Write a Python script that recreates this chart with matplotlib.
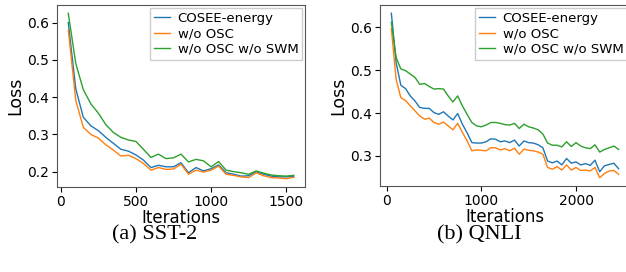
import numpy as np
import matplotlib
matplotlib.use("Agg")
import matplotlib.pyplot as plt
from matplotlib.ticker import MultipleLocator

# SST-2 (left panel)
sst_iters = list(range(50, 1551, 50))
sst_cosee = [0.600, 0.422, 0.346, 0.323, 0.310, 0.292, 0.276, 0.260, 0.255, 0.245,
             0.231, 0.211, 0.217, 0.213, 0.213, 0.224, 0.197, 0.211, 0.202, 0.208,
             0.218, 0.197, 0.193, 0.188, 0.189, 0.199, 0.193, 0.188, 0.186, 0.186, 0.187]
sst_no_osc = [0.580, 0.391, 0.319, 0.300, 0.290, 0.272, 0.258, 0.242, 0.244, 0.235,
              0.222, 0.204, 0.211, 0.206, 0.207, 0.220, 0.193, 0.204, 0.199, 0.204,
              0.215, 0.193, 0.190, 0.186, 0.184, 0.197, 0.189, 0.184, 0.183, 0.181, 0.185]
sst_no_osc_swm = [0.625, 0.490, 0.420, 0.382, 0.357, 0.326, 0.305, 0.292, 0.285, 0.281,
                  0.260, 0.238, 0.247, 0.235, 0.237, 0.247, 0.226, 0.233, 0.229, 0.213,
                  0.227, 0.204, 0.200, 0.197, 0.193, 0.202, 0.196, 0.191, 0.189, 0.188, 0.190]

# QNLI (right panel)
qnli_iters = list(range(50, 2451, 50))
qnli_cosee = [0.633, 0.518, 0.465, 0.457, 0.440, 0.428, 0.413, 0.411, 0.411, 0.401,
              0.397, 0.403, 0.393, 0.384, 0.399, 0.374, 0.354, 0.331, 0.330, 0.330,
              0.333, 0.340, 0.339, 0.333, 0.335, 0.331, 0.337, 0.323, 0.335, 0.331,
              0.330, 0.326, 0.319, 0.288, 0.284, 0.288, 0.279, 0.294, 0.283, 0.286,
              0.279, 0.282, 0.278, 0.290, 0.263, 0.277, 0.280, 0.283, 0.270]
qnli_no_osc = [0.597, 0.479, 0.436, 0.429, 0.417, 0.405, 0.393, 0.386, 0.388, 0.378,
               0.374, 0.379, 0.370, 0.361, 0.376, 0.355, 0.335, 0.312, 0.314, 0.313,
               0.312, 0.319, 0.319, 0.314, 0.317, 0.312, 0.318, 0.304, 0.316, 0.313,
               0.312, 0.309, 0.304, 0.273, 0.269, 0.275, 0.267, 0.279, 0.267, 0.273,
               0.266, 0.267, 0.265, 0.273, 0.249, 0.259, 0.265, 0.266, 0.257]
qnli_no_osc_swm = [0.612, 0.530, 0.503, 0.499, 0.491, 0.483, 0.467, 0.469, 0.462, 0.456,
                   0.457, 0.456, 0.440, 0.426, 0.440, 0.417, 0.397, 0.378, 0.370, 0.368,
                   0.372, 0.378, 0.378, 0.376, 0.373, 0.372, 0.376, 0.364, 0.374, 0.368,
                   0.365, 0.361, 0.351, 0.330, 0.325, 0.325, 0.321, 0.333, 0.322, 0.331,
                   0.323, 0.319, 0.317, 0.326, 0.309, 0.315, 0.319, 0.323, 0.315]

labels = ["COSEE-energy", "w/o OSC", "w/o OSC w/o SWM"]
captions = ["(a) SST-2", "(b) QNLI"]

W, H = 626, 272
fig = plt.figure(figsize=(W / 100, H / 100), dpi=100)

# axes boxes in pixels: left, top, right, bottom
boxes = [(57, 5, 305, 187), (380, 5, 630, 186)]
panels = [(sst_iters, [sst_cosee, sst_no_osc, sst_no_osc_swm], 500),
          (qnli_iters, [qnli_cosee, qnli_no_osc, qnli_no_osc_swm], 1000)]
colors = ["#1f77b4", "#ff7f0e", "#2ca02c"]

for (l, t, r, b), (x, ys, step) in zip(boxes, panels):
    ax = fig.add_axes([l / W, 1 - b / H, (r - l) / W, (b - t) / H])
    for y, lab, c in zip(ys, labels, colors):
        ax.plot(x, y, color=c, lw=1.0, label=lab)
    ax.xaxis.set_major_locator(MultipleLocator(step))
    ax.set_xlabel("Iterations", fontsize=12, labelpad=0)
    ax.set_ylabel("Loss", fontsize=12.5, labelpad=2)
    ax.tick_params(labelsize=10, pad=2)
    for s in ax.spines.values():
        s.set_color("#555555")
    ax.legend(loc="upper right", fontsize=9.5, handlelength=1.2, handletextpad=0.6,
              borderpad=0.3, labelspacing=0.2, borderaxespad=0.2, fancybox=False,
              framealpha=1, edgecolor="#cccccc")

for cx, cap in zip([155, 479], captions):
    fig.text(cx / W, 1 - 235 / H, cap, ha="center", va="center",
             fontsize=16, family="Liberation Serif")

fig.savefig("out.png", dpi=100)
